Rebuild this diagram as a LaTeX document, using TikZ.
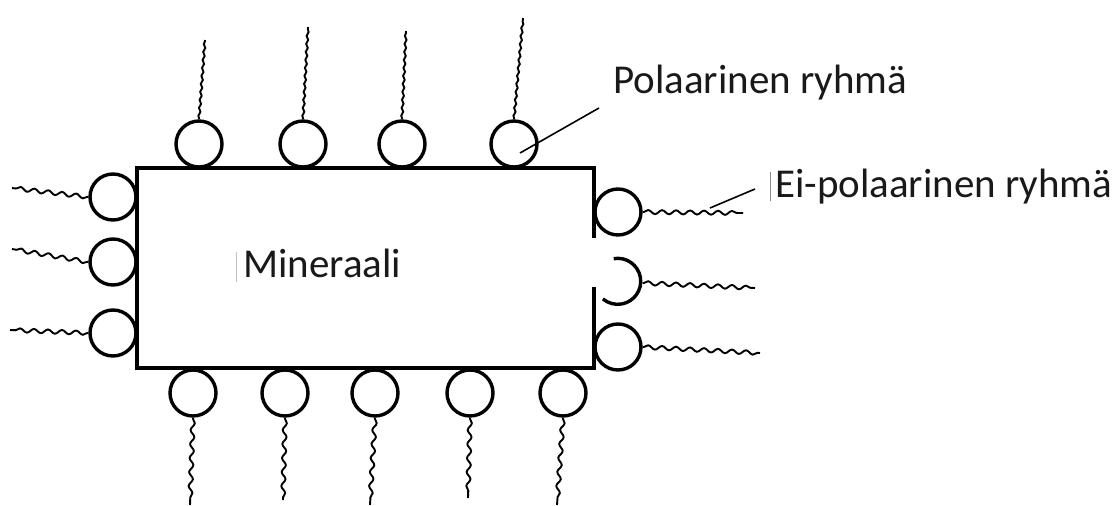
\documentclass[tikz,border=0pt]{standalone}
\usepackage{fontspec}
\setmainfont{Carlito}
\usetikzlibrary{decorations.pathmorphing}
\tikzset{
  grp/.style={circle, draw, line width=3.4pt, minimum size=46pt, inner sep=0pt},
  tail/.style={line width=1.9pt, decorate, decoration={snake, amplitude=2pt, segment length=14pt, post length=1pt, pre length=1pt}},
  tailtop/.style={tail, decoration={snake, amplitude=0.9pt, segment length=8pt}},
  lbl/.style={anchor=base west, inner sep=0pt, text=black!90, font=\fontsize{41}{47}\selectfont},
  pointer/.style={line width=1.6pt},
  cursorbar/.style={line width=0.8pt, black!45}
}
\begin{document}
\begin{tikzpicture}[x=1pt,y=-1pt]
\useasboundingbox (0,0) rectangle (1114,506);
% mineral body
\draw[line width=3.8pt] (594,238) -- (594,168) -- (137,168) -- (137,368) -- (594,368) -- (594,287);
% top groups
\node[grp] (t1) at (199,144) {};
\node[grp] (t2) at (303,144) {};
\node[grp] (t3) at (402,144) {};
\node[grp] (t4) at (514,144) {};
\coordinate (t1e) at (205,40);
\coordinate (t2e) at (308,27);
\coordinate (t3e) at (406,31);
\coordinate (t4e) at (523,18);
\foreach \i in {1,2,3,4} \draw[tailtop] (t\i.north) -- (t\i e);
% left groups
\node[grp] (l1) at (113,197) {};
\node[grp] (l2) at (113,262) {};
\node[grp] (l3) at (113,333) {};
\coordinate (l1e) at (12,188);
\coordinate (l2e) at (12,249);
\coordinate (l3e) at (10,330);
\foreach \i in {1,2,3} \draw[tail] (l\i.west) -- (l\i e);
% right groups
\node[grp] (r1) at (618,212) {};
\node[grp, draw=none] (r2) at (618,283) {};
\draw[line width=3.4pt] (r2.100) arc[start angle=100, end angle=-130, radius=23pt];
\node[grp] (r3) at (618,347) {};
\coordinate (r1e) at (743,213);
\coordinate (r2e) at (755,288);
\coordinate (r3e) at (760,353);
\foreach \i in {1,2,3} \draw[tail] (r\i.east) -- (r\i e);
% bottom groups
\node[grp] (b1) at (193,393) {};
\node[grp] (b2) at (285,393) {};
\node[grp] (b3) at (375,393) {};
\node[grp] (b4) at (470,393) {};
\node[grp] (b5) at (563,393) {};
\coordinate (b1e) at (190,505);
\coordinate (b2e) at (283,500);
\coordinate (b3e) at (370,505);
\coordinate (b4e) at (468,498);
\coordinate (b5e) at (557,505);
\foreach \i in {1,2,3,4,5} \draw[tail] (b\i.south) -- (b\i e);
% labels
\node[lbl] (pol) at (613,93) {Polaarinen ryhmä};
\node[lbl] (epol) at (775,197) {Ei-polaarinen ryhmä};
\node[lbl] (min) at (243,277) {Mineraali};
\draw[cursorbar] (770,172) -- (770,201);
\draw[cursorbar, black!25] (236,252) -- (236,282);
% pointers
\coordinate (polp) at (520,153);
\coordinate (polq) at (599,108);
\draw[pointer] (polp) -- (polq);
\coordinate (epp) at (710,208);
\coordinate (epq) at (755,189);
\draw[pointer] (epp) -- (epq);
\end{tikzpicture}
\end{document}
